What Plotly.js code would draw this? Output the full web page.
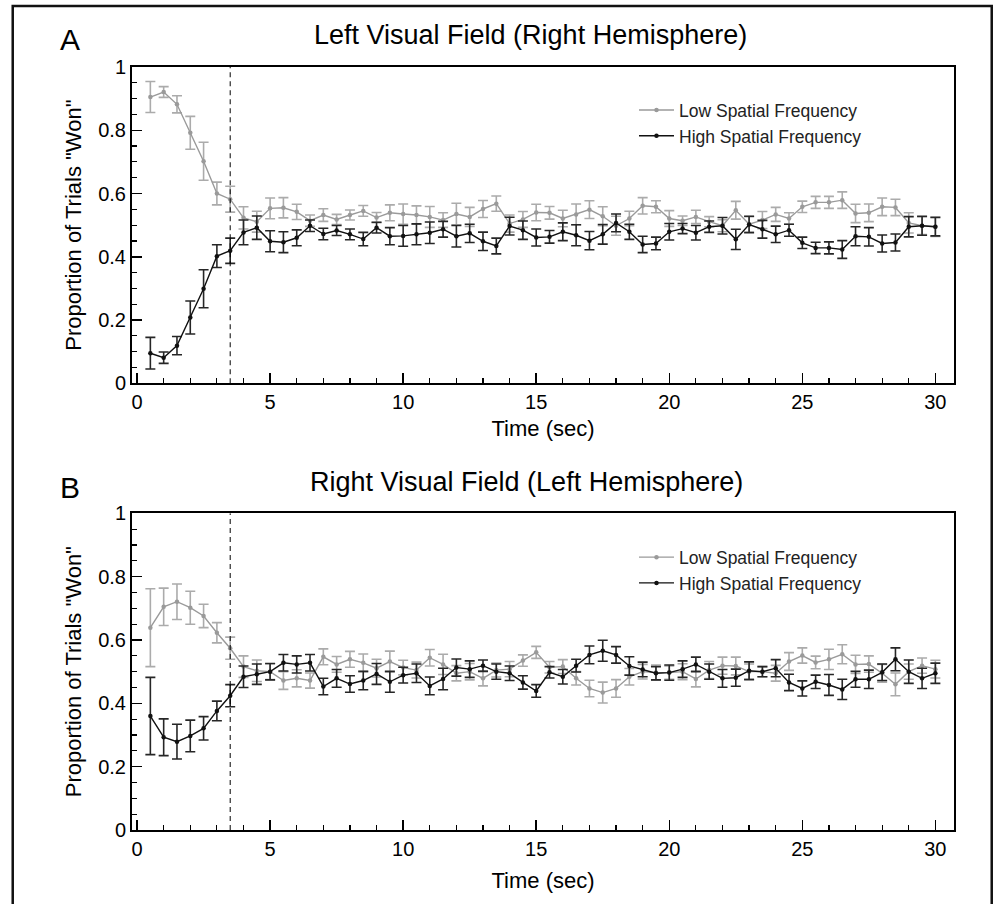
<!DOCTYPE html>
<html>
<head>
<meta charset="utf-8">
<script src="https://cdn.plot.ly/plotly-3.0.1.min.js"></script>
<style>
  html, body { margin: 0; padding: 0; background: #ffffff; }
  #chart { width: 1003px; height: 904px; }
</style>
</head>
<body>
<div id="chart"></div>
<script>
// ---------------- DATA ----------------
const timeSec = [0.5, 1, 1.5, 2, 2.5, 3, 3.5, 4, 4.5, 5, 5.5, 6, 6.5, 7, 7.5, 8, 8.5, 9, 9.5, 10,
  10.5, 11, 11.5, 12, 12.5, 13, 13.5, 14, 14.5, 15, 15.5, 16, 16.5, 17, 17.5, 18, 18.5, 19, 19.5, 20,
  20.5, 21, 21.5, 22, 22.5, 23, 23.5, 24, 24.5, 25, 25.5, 26, 26.5, 27, 27.5, 28, 28.5, 29, 29.5, 30];

// Panel A: Left Visual Field (Right Hemisphere)
const aLowMean = [0.905, 0.921, 0.882, 0.792, 0.702, 0.600, 0.582, 0.523, 0.511, 0.553, 0.555, 0.542, 0.514, 0.532, 0.518, 0.532, 0.545, 0.524, 0.539, 0.535,
  0.532, 0.526, 0.516, 0.535, 0.526, 0.551, 0.568, 0.505, 0.518, 0.540, 0.539, 0.521, 0.534, 0.549, 0.528, 0.498, 0.521, 0.561, 0.558, 0.521,
  0.514, 0.526, 0.511, 0.498, 0.547, 0.503, 0.516, 0.534, 0.521, 0.558, 0.572, 0.572, 0.579, 0.537, 0.539, 0.558, 0.556, 0.507, 0.498, 0.495];
const aLowErr = [0.049, 0.017, 0.027, 0.052, 0.060, 0.036, 0.041, 0.035, 0.033, 0.033, 0.032, 0.024, 0.018, 0.020, 0.016, 0.016, 0.017, 0.016, 0.025, 0.032,
  0.029, 0.033, 0.023, 0.034, 0.030, 0.027, 0.024, 0.027, 0.025, 0.026, 0.020, 0.026, 0.033, 0.028, 0.030, 0.030, 0.023, 0.026, 0.019, 0.025,
  0.015, 0.021, 0.016, 0.019, 0.028, 0.024, 0.027, 0.022, 0.018, 0.018, 0.019, 0.019, 0.026, 0.029, 0.028, 0.028, 0.026, 0.032, 0.028, 0.031];
const aHighMean = [0.095, 0.081, 0.119, 0.208, 0.299, 0.402, 0.419, 0.477, 0.492, 0.449, 0.446, 0.460, 0.498, 0.472, 0.483, 0.471, 0.456, 0.492, 0.465, 0.466,
  0.471, 0.476, 0.487, 0.465, 0.474, 0.449, 0.434, 0.497, 0.484, 0.461, 0.463, 0.479, 0.468, 0.451, 0.471, 0.507, 0.479, 0.439, 0.442, 0.479,
  0.489, 0.476, 0.495, 0.498, 0.455, 0.502, 0.487, 0.471, 0.484, 0.444, 0.428, 0.428, 0.423, 0.465, 0.463, 0.442, 0.445, 0.495, 0.498, 0.495];
const aHighErr = [0.050, 0.018, 0.029, 0.052, 0.060, 0.036, 0.040, 0.039, 0.037, 0.033, 0.033, 0.025, 0.018, 0.018, 0.016, 0.017, 0.021, 0.017, 0.027, 0.033,
  0.033, 0.034, 0.025, 0.034, 0.029, 0.029, 0.025, 0.028, 0.029, 0.027, 0.020, 0.028, 0.033, 0.029, 0.031, 0.028, 0.024, 0.026, 0.020, 0.026,
  0.016, 0.023, 0.018, 0.026, 0.032, 0.026, 0.028, 0.026, 0.019, 0.018, 0.018, 0.019, 0.028, 0.030, 0.029, 0.027, 0.027, 0.032, 0.030, 0.029];

// Panel B: Right Visual Field (Left Hemisphere)
const bLowMean = [0.639, 0.705, 0.721, 0.702, 0.676, 0.623, 0.574, 0.516, 0.503, 0.500, 0.472, 0.479, 0.472, 0.547, 0.523, 0.539, 0.528, 0.511, 0.532, 0.513,
  0.505, 0.544, 0.523, 0.495, 0.500, 0.479, 0.505, 0.508, 0.535, 0.561, 0.514, 0.516, 0.479, 0.447, 0.434, 0.447, 0.484, 0.500, 0.497, 0.497,
  0.500, 0.477, 0.505, 0.519, 0.518, 0.500, 0.500, 0.495, 0.532, 0.551, 0.529, 0.539, 0.555, 0.523, 0.524, 0.495, 0.460, 0.500, 0.519, 0.508];
const bLowErr = [0.123, 0.059, 0.056, 0.052, 0.037, 0.032, 0.035, 0.034, 0.034, 0.025, 0.028, 0.027, 0.024, 0.025, 0.025, 0.025, 0.028, 0.028, 0.033, 0.023,
  0.025, 0.026, 0.032, 0.024, 0.026, 0.024, 0.022, 0.024, 0.018, 0.019, 0.018, 0.022, 0.021, 0.026, 0.033, 0.028, 0.026, 0.023, 0.024, 0.021,
  0.025, 0.025, 0.027, 0.027, 0.028, 0.024, 0.016, 0.025, 0.028, 0.024, 0.020, 0.032, 0.030, 0.029, 0.026, 0.028, 0.036, 0.024, 0.024, 0.028];
const bHighMean = [0.360, 0.293, 0.279, 0.297, 0.321, 0.376, 0.424, 0.484, 0.492, 0.500, 0.528, 0.523, 0.528, 0.453, 0.479, 0.461, 0.472, 0.493, 0.468, 0.489,
  0.495, 0.455, 0.477, 0.513, 0.508, 0.519, 0.500, 0.495, 0.466, 0.439, 0.498, 0.484, 0.519, 0.553, 0.566, 0.553, 0.518, 0.507, 0.495, 0.497,
  0.508, 0.523, 0.500, 0.479, 0.481, 0.503, 0.500, 0.511, 0.466, 0.447, 0.468, 0.458, 0.444, 0.476, 0.476, 0.498, 0.539, 0.500, 0.479, 0.495];
const bHighErr = [0.122, 0.058, 0.055, 0.050, 0.037, 0.031, 0.035, 0.034, 0.032, 0.026, 0.026, 0.027, 0.026, 0.026, 0.028, 0.026, 0.029, 0.033, 0.033, 0.025,
  0.029, 0.028, 0.034, 0.027, 0.026, 0.018, 0.024, 0.023, 0.021, 0.020, 0.018, 0.023, 0.020, 0.028, 0.033, 0.026, 0.029, 0.023, 0.021, 0.024,
  0.026, 0.023, 0.024, 0.028, 0.027, 0.028, 0.016, 0.027, 0.026, 0.024, 0.021, 0.033, 0.032, 0.025, 0.029, 0.026, 0.036, 0.037, 0.032, 0.032];

const seriesNames = ['Low Spatial Frequency', 'High Spatial Frequency'];
const panelTitles = ['Left Visual Field (Right Hemisphere)', 'Right Visual Field (Left Hemisphere)'];
const panelLetters = ['A', 'B'];
const xTitle = 'Time (sec)';
const yTitle = 'Proportion of Trials "Won"';
const boundaryTime = 3.5;

// ---------------- STYLE ----------------
const FONT = 'Liberation Sans, Arial, Helvetica, sans-serif';
const lowColor = '#9a9a9a';
const lowErrColor = '#ababab';
const highColor = '#111111';
const highErrColor = '#262626';

function makeTrace(y, err, isLow, xa, ya, legendId) {
  return {
    type: 'scatter', mode: 'lines+markers',
    x: timeSec, y: y,
    xaxis: xa, yaxis: ya,
    name: isLow ? seriesNames[0] : seriesNames[1],
    legend: legendId,
    line: { color: isLow ? lowColor : highColor, width: 1.4 },
    marker: { color: isLow ? lowColor : highColor, size: 4.5 },
    error_y: { type: 'data', array: err, visible: true,
      color: isLow ? lowErrColor : highErrColor, thickness: 1.6, width: 5 },
    hoverinfo: 'x+y'
  };
}

const data = [
  makeTrace(aLowMean, aLowErr, true, 'x', 'y', 'legend'),
  makeTrace(aHighMean, aHighErr, false, 'x', 'y', 'legend'),
  makeTrace(bLowMean, bLowErr, true, 'x2', 'y2', 'legend2'),
  makeTrace(bHighMean, bHighErr, false, 'x2', 'y2', 'legend2')
];

function xAxis(anchor, standoff) {
  return {
    anchor: anchor, domain: [0, 1], range: [-0.19, 30.7],
    tick0: 0, dtick: 5, ticks: 'inside', ticklen: 10, tickwidth: 1.5, tickcolor: '#000',
    minor: { dtick: 1, ticks: 'inside', ticklen: 5, tickwidth: 1.2, tickcolor: '#000', showgrid: false },
    showline: true, linewidth: 2, linecolor: '#000', mirror: true,
    showgrid: false, zeroline: false,
    tickfont: { family: FONT, size: 20, color: '#000' },
    title: { text: xTitle, font: { family: FONT, size: 22, color: '#000' }, standoff: standoff }
  };
}
function yAxis(anchor, domain) {
  return {
    anchor: anchor, domain: domain, range: [0, 1],
    tick0: 0, dtick: 0.2, ticks: 'inside', ticklen: 10, tickwidth: 1.5, tickcolor: '#000',
    minor: { dtick: 0.05, ticks: 'inside', ticklen: 5, tickwidth: 1.2, tickcolor: '#000', showgrid: false },
    showline: true, linewidth: 2, linecolor: '#000', mirror: true,
    showgrid: false, zeroline: false,
    tickfont: { family: FONT, size: 20, color: '#000' },
    title: { text: yTitle, font: { family: FONT, size: 22, color: '#000' }, standoff: 10 }
  };
}

function legendCfg(y) {
  return {
    x: 0.6107, y: y, xanchor: 'left', yanchor: 'top',
    bgcolor: 'rgba(0,0,0,0)', borderwidth: 0,
    font: { family: FONT, size: 17.5, color: '#222' },
    tracegroupgap: 0, itemwidth: 35
  };
}

const layout = {
  width: 1003, height: 904,
  margin: { l: 132, r: 49, t: 67, b: 74, pad: 0 },
  paper_bgcolor: '#ffffff', plot_bgcolor: '#ffffff',
  font: { family: FONT, color: '#000' },
  showlegend: true,
  xaxis: xAxis('y', 8),
  yaxis: yAxis('x', [0.5855, 1]),
  xaxis2: xAxis('y2', 14),
  yaxis2: yAxis('x2', [0, 0.415]),
  legend: legendCfg(0.967),
  legend2: legendCfg(0.381),
  annotations: [
    { text: panelTitles[0], xref: 'paper', yref: 'paper', x: 0.485, y: 1.042, xanchor: 'center', yanchor: 'middle',
      showarrow: false, font: { family: FONT, size: 27, color: '#000' } },
    { text: panelTitles[1], xref: 'paper', yref: 'paper', x: 0.48, y: 0.456, xanchor: 'center', yanchor: 'middle',
      showarrow: false, font: { family: FONT, size: 27, color: '#000' } },
    { text: panelLetters[0], xref: 'paper', yref: 'paper', x: -0.076, y: 1.036, xanchor: 'center', yanchor: 'middle',
      showarrow: false, font: { family: FONT, size: 30, color: '#000' } },
    { text: panelLetters[1], xref: 'paper', yref: 'paper', x: -0.076, y: 0.449, xanchor: 'center', yanchor: 'middle',
      showarrow: false, font: { family: FONT, size: 30, color: '#000' } }
  ],
  shapes: [
    { type: 'line', xref: 'x', yref: 'y domain', x0: boundaryTime, x1: boundaryTime, y0: 0, y1: 1,
      line: { color: '#000', width: 1, dash: '5px,4px' } },
    { type: 'line', xref: 'x2', yref: 'y2 domain', x0: boundaryTime, x1: boundaryTime, y0: 0, y1: 1,
      line: { color: '#000', width: 1, dash: '5px,4px' } },
    // outer figure frame
    { type: 'rect', xref: 'paper', yref: 'paper', x0: -0.1451, x1: 1.0459, y0: -0.2, y1: 1.0799,
      line: { color: '#111', width: 2.5 }, fillcolor: 'rgba(0,0,0,0)', layer: 'below' }
  ]
};

Plotly.newPlot('chart', data, layout, { displayModeBar: false, staticPlot: true });
</script>
</body>
</html>
